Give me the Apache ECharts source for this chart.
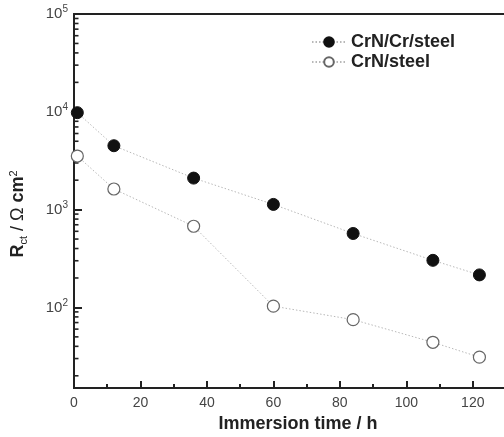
<!DOCTYPE html>
<html>
<head>
<meta charset="utf-8">
<script src="https://cdn.jsdelivr.net/npm/echarts@6/dist/echarts.min.js"></script>
<style>
  html, body { margin: 0; padding: 0; background: #fff; }
  #chart { width: 504px; height: 437px; }
</style>
</head>
<body>
<div id="chart"></div>
<script>
// immersion time (h)
var hours = [1, 12, 36, 60, 84, 108, 122];
// Rct values, ohm cm2
var crnCrSteel = [9800, 4500, 2100, 1130, 570, 303, 215];
var crnSteel = [3530, 1625, 676, 103, 75, 44, 31];
var seriesNames = ['CrN/Cr/steel', 'CrN/steel'];
// decades shown on the log axis
var decades = [10, 100, 1000, 10000];

function pairs(xs, ys) {
  return xs.map(function (x, i) { return [x, ys[i]]; });
}

// minor ticks at 2..9 x 10^n (log minorTick is not usable here)
var minorTicks = [];
decades.forEach(function (d) {
  for (var k = 2; k <= 9; k++) {
    if (k * d > 15 && k * d < 100000) minorTicks.push([0, k * d]);
  }
});

var chart = echarts.init(document.getElementById('chart'));

var dotted = { type: [1.5, 2], color: '#b8b8b8', width: 1 };

var option = {
  animation: false,
  grid: {
    left: 74, top: 14, right: -2, bottom: 49,
    outerBoundsMode: 'none',
    show: true, borderColor: '#222', borderWidth: 1.8
  },
  legend: {
    orient: 'vertical',
    left: 311, top: 33, padding: 0,
    itemWidth: 34, itemHeight: 12, itemGap: 2,
    textStyle: { fontSize: 18, fontWeight: 'bold', color: '#222', fontFamily: 'Liberation Sans', lineHeight: 18 },
    data: seriesNames
  },
  xAxis: [{
    type: 'value',
    min: 0, max: 130, interval: 20,
    name: 'Immersion time / h',
    nameLocation: 'middle',
    nameGap: 26,
    nameTextStyle: { fontSize: 18, fontWeight: 'bold', color: '#222', fontFamily: 'Liberation Sans', padding: [0, 0, 0, 16] },
    axisLine: { lineStyle: { color: '#222', width: 2 } },
    axisTick: { show: true, inside: true, length: 7, lineStyle: { color: '#222', width: 2 } },
    axisLabel: {
      margin: 8, fontSize: 14, color: '#444', fontFamily: 'Liberation Sans',
      formatter: function (v) { return v % 20 === 0 && v <= 120 ? String(v) : ''; }
    },
    splitLine: { show: false }
  }, {
    // short ticks every 10 h along the bottom edge
    type: 'value',
    position: 'top',
    offset: -374,
    min: 0, max: 130, interval: 10,
    axisLine: { show: false },
    axisTick: { show: true, inside: false, length: 4, lineStyle: { color: '#222', width: 2 } },
    axisLabel: { show: false },
    splitLine: { show: false }
  }],
  yAxis: {
    type: 'log',
    min: 15, max: 100000,
    name: '{b|R}{sub|ct}{n| / Ω }{b|cm}{sup|2}',
    nameLocation: 'middle',
    nameRotate: 90,
    nameGap: 45,
    nameTextStyle: {
      padding: [0, 26, 0, 0],
      fontFamily: 'Liberation Sans',
      rich: {
        b: { fontSize: 18, fontWeight: 'bold', color: '#222', fontFamily: 'Liberation Sans' },
        n: { fontSize: 18, color: '#222', fontFamily: 'Liberation Sans' },
        sub: { fontSize: 11, color: '#222', fontFamily: 'Liberation Sans', padding: [10, 0, 0, 0] },
        sup: { fontSize: 11, color: '#222', fontFamily: 'Liberation Sans', padding: [0, 0, 10, 0] }
      }
    },
    axisLine: { show: true, lineStyle: { color: '#222', width: 2 } },
    axisTick: { show: true, inside: true, length: 8, lineStyle: { color: '#222', width: 2 } },
    axisLabel: {
      margin: 6, fontFamily: 'Liberation Sans', color: '#444', fontSize: 15,
      formatter: function (v) {
        var e = Math.round(Math.log10(v));
        if (Math.abs(v - Math.pow(10, e)) > 1e-6 * v) return '';
        return '10{sup|' + e + '}';
      },
      rich: {
        sup: { fontSize: 10, color: '#444', fontFamily: 'Liberation Sans', padding: [0, 0, 9, 0] }
      }
    },
    splitLine: { show: false }
  },
  series: [{
    name: 'minorTicks',
    type: 'custom',
    xAxisIndex: 0,
    silent: true,
    data: minorTicks,
    renderItem: function (params, api) {
      var p = api.coord([api.value(0), api.value(1)]);
      return {
        type: 'line',
        shape: { x1: p[0], y1: p[1], x2: p[0] + 4.5, y2: p[1] },
        style: { stroke: '#222', lineWidth: 1.6 }
      };
    }
  }, {
    name: seriesNames[0],
    type: 'line',
    xAxisIndex: 0,
    data: pairs(hours, crnCrSteel),
    symbol: 'circle',
    symbolSize: 12,
    lineStyle: dotted,
    itemStyle: { color: '#111', borderColor: '#111', borderWidth: 1 }
  }, {
    name: seriesNames[1],
    type: 'line',
    xAxisIndex: 0,
    data: pairs(hours, crnSteel),
    symbol: 'circle',
    symbolSize: 12,
    lineStyle: dotted,
    itemStyle: { color: '#fff', borderColor: '#666', borderWidth: 1.2 }
  }]
};

chart.setOption(option);
</script>
</body>
</html>
